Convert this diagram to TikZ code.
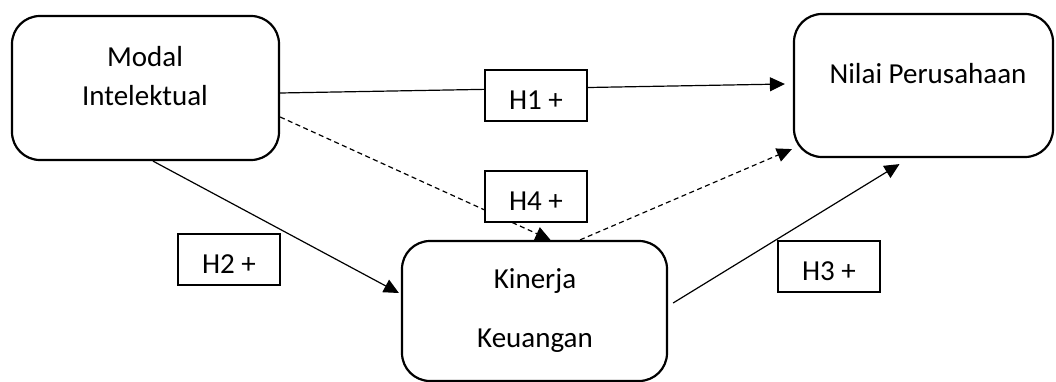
\documentclass[tikz,border=0pt]{standalone}
\usepackage{fontspec}
\setmainfont{Carlito}
\usetikzlibrary{arrows.meta,backgrounds}
\begin{document}
\begin{tikzpicture}[x=1pt,y=-1pt,
  bigbox/.style={draw,line width=2.2pt,rounded corners=28pt,fill=white,inner sep=0pt},
  hbox/.style={draw,line width=2pt,fill=white,inner sep=0pt,minimum width=102pt,minimum height=51pt,text height=28pt,text depth=0pt,font=\fontsize{29}{35}\selectfont},
  txt/.style={inner sep=0pt,anchor=base,font=\fontsize{29}{35}\selectfont},
  conn/.style={line width=1.2pt,-{Triangle[length=15pt,width=14pt]}},
  dconn/.style={conn,dash pattern=on 5pt off 3.5pt}]
\useasboundingbox (0,0) rectangle (1056,382);

% boxes
\node[bigbox,minimum width=267pt,minimum height=144pt] (modal) at (145.5,88) {};
\node[bigbox,minimum width=259pt,minimum height=143pt] (nilai) at (923.5,85.5) {};
\node[bigbox,minimum width=265pt,minimum height=140pt] (kinerja) at (534.5,311) {};

% texts
\node[txt] (t1) at (145,67) {Modal};
\node[txt] (t2) at (145,106) {Intelektual};
\node[txt] (t3) at (928,84) {Nilai Perusahaan};
\node[txt] (t4) at (535,288) {Kinerja};
\node[txt] (t5) at (535,347) {Keuangan};

% hypothesis labels
\node[hbox] (h1) at (536,95.5) {H1 +};
\node[hbox] (h4) at (536,196.5) {H4 +};
\node[hbox] (h2) at (229,259) {H2 +};
\node[hbox] (h3) at (829,266.5) {H3 +};

% connectors
\begin{scope}[on background layer]
\draw[conn] ([yshift=-5pt]modal.east) -- ([xshift=-8pt,yshift=1.5pt]nilai.west);
\draw[conn] ([xshift=7.5pt]modal.south) -- ([xshift=-2pt,yshift=18pt]kinerja.west);
\draw[conn] ([xshift=5pt,yshift=8pt]kinerja.east) -- ([xshift=-24pt,yshift=-6pt]nilai.south);
\draw[dconn] ([yshift=-29pt]modal.east) -- ([xshift=16pt]kinerja.north);
\draw[dconn] ([xshift=45.5pt]kinerja.north) -- ([xshift=-1pt,yshift=9pt]nilai.south west);
\end{scope}
\end{tikzpicture}
\end{document}
